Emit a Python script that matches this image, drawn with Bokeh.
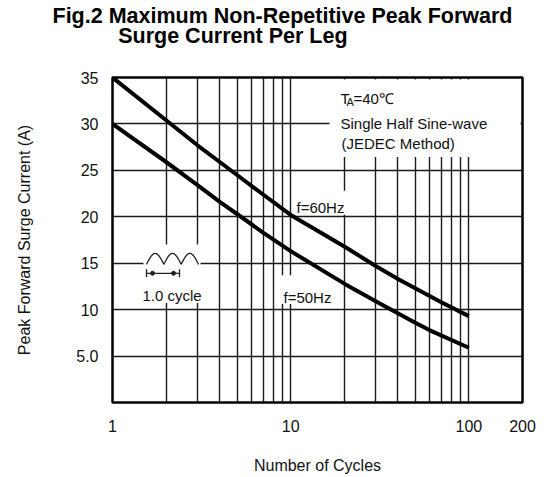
import numpy as np
from bokeh.plotting import figure
from bokeh.models import FixedTicker, Label, Range1d, Title
from bokeh.embed import file_html
from bokeh.resources import INLINE

# ---- data ----
cycles_60hz = [1, 2, 3, 4, 5, 7, 10, 20, 30, 40, 50, 70, 100]
surge_60hz = [35.0, 30.4, 27.7, 25.9, 24.5, 22.4, 20.2, 16.8, 14.7, 13.3, 12.3, 10.8, 9.3]
cycles_50hz = [1, 2, 3, 4, 5, 7, 10, 20, 30, 50, 60, 100]
surge_50hz = [30.0, 25.9, 23.4, 21.6, 20.3, 18.3, 16.3, 12.8, 10.9, 8.6, 7.8, 5.9]
x_ticks = [1, 10, 100, 200]
x_grid = [2, 3, 4, 5, 6, 7, 8, 9, 10, 20, 30, 40, 50, 60, 70, 80, 90, 100]
y_ticks = [5, 10, 15, 20, 25, 30, 35]
y_tick_overrides = {5: "5.0"}
title_lines = ["Fig.2 Maximum Non-Repetitive Peak Forward", "Surge Current Per Leg"]

# ---- layout (page pixels; figure sits at the page's top-left) ----
W, H = 545, 477
F_LEFT, F_RIGHT, F_TOP, F_BOTTOM = 112, 522, 75, 402  # frame edges on the page
X_MIN, X_MAX, Y_MIN, Y_MAX = 1, 200, 0, 35

FONT = "Liberation Sans"
TXT = "#111111"

p = figure(width=W, height=H, title=None,
           x_axis_type="log",
           x_range=Range1d(X_MIN, X_MAX), y_range=Range1d(Y_MIN, Y_MAX),
           output_backend="svg", toolbar_location=None,
           min_border_left=F_LEFT, min_border_right=W - F_RIGHT,
           min_border_top=F_TOP, min_border_bottom=H - F_BOTTOM)

p.outline_line_color = "black"
p.outline_line_width = 2.5
p.background_fill_color = "white"
p.border_fill_color = "white"

# spacer between frame and title, then the two-line title (2nd line indented)
p.add_layout(Title(text="\u00a0", text_font_size="2px", standoff=20), "above")
p.add_layout(Title(text=title_lines[0] + "\n" + "\u00a0" * 11 + title_lines[1],
                   align="left", offset=-60, standoff=7, vertical_align="top",
                   text_line_height=0.83,
                   text_font=FONT, text_font_size="21.5px",
                   text_font_style="bold", text_color="black"), "above")

# axes
for ax in (p.xaxis[0], p.yaxis[0]):
    ax.axis_line_color = None
    ax.major_tick_line_color = None
    ax.minor_tick_line_color = None
    ax.major_tick_out = 0
    ax.major_tick_in = 0
    ax.minor_tick_out = 0
    ax.minor_tick_in = 0
    ax.major_label_text_font = FONT
    ax.major_label_text_font_size = "16px"
    ax.major_label_text_color = TXT
    ax.axis_label_text_font = FONT
    ax.axis_label_text_font_size = "16px"
    ax.axis_label_text_font_style = "normal"
    ax.axis_label_text_color = TXT

p.xaxis.ticker = FixedTicker(ticks=x_ticks, minor_ticks=[])
p.xaxis.major_label_standoff = 17
p.xaxis.axis_label = "Number of Cycles"
p.xaxis.axis_label_standoff = 22

p.yaxis.ticker = FixedTicker(ticks=y_ticks, minor_ticks=[])
p.yaxis.major_label_overrides = y_tick_overrides
p.yaxis.major_label_standoff = 14
p.yaxis.axis_label = "Peak Forward Surge Current (A)"
p.yaxis.axis_label_standoff = 40

# grid
p.xgrid.ticker = FixedTicker(ticks=x_grid, minor_ticks=[])
p.ygrid.ticker = FixedTicker(ticks=y_ticks[:-1], minor_ticks=[])
for g in (p.xgrid[0], p.ygrid[0]):
    g.grid_line_color = "#1a1a1a"
    g.grid_line_width = 1.4
    g.minor_grid_line_color = None

# helpers: page pixel -> data coordinates (for decorations only)
DEC = (F_RIGHT - F_LEFT) / np.log10(X_MAX / X_MIN)
def px_x(px):
    return X_MIN * 10 ** ((np.asarray(px, dtype=float) - F_LEFT) / DEC)
def py_y(py):
    return Y_MIN + (F_BOTTOM - np.asarray(py, dtype=float)) * (Y_MAX - Y_MIN) / (F_BOTTOM - F_TOP)

# white masks that interrupt the grid behind annotations
masks = [  # (left, right, top, bottom) in page px
    (329, F_RIGHT - 2, F_TOP + 2, 155),   # T_A block
    (143, 200, 243, 302),                 # wave symbol + "1.0 cycle"
    (294, 356, 189, 213),                 # f=60Hz
    (280, 340, 274, 303),                 # f=50Hz
]
for l, r, t, b in masks:
    p.quad(left=px_x(l), right=px_x(r), top=py_y(t), bottom=py_y(b),
           fill_color="white", line_color=None)

# curves
p.line(cycles_60hz, surge_60hz, line_color="black", line_width=4, line_join="round")
p.line(cycles_50hz, surge_50hz, line_color="black", line_width=4, line_join="round")

# wave symbol
wx = np.linspace(146, 198, 200)
wy = 263 - 11 * np.abs(np.sin(np.pi * (wx - 146) / (52 / 3)))
p.line(px_x(wx), py_y(wy), line_color="#222222", line_width=1.3)
p.segment(x0=px_x([146, 146, 179]), y0=py_y([272, 268, 268]),
          x1=px_x([179, 146, 179]), y1=py_y([272, 276, 276]),
          line_color="#222222", line_width=1.3)
p.scatter(px_x([152, 173]), py_y([272, 272]), size=4, color="#222222")

# text annotations (screen units relative to frame's bottom-left)
def lab(text, px, py, size):
    p.add_layout(Label(x=px - F_LEFT, y=F_BOTTOM - py, x_units="screen", y_units="screen",
                       text=text, text_font=FONT, text_font_size=f"{size}px",
                       text_color=TXT, text_baseline="alphabetic", text_align="left"))

lab("T", 340, 98, 15)
lab("A", 346, 101, 11)
lab("=40℃", 353, 98, 15)
lab("Single Half Sine-wave", 340, 123, 15)
lab("(JEDEC Method)", 341, 143, 15)
lab("f=60Hz", 296, 207, 15)
lab("f=50Hz", 283, 297, 15)
lab("1.0 cycle", 142, 295, 15)

open("out.html", "w").write(file_html(p, INLINE))
